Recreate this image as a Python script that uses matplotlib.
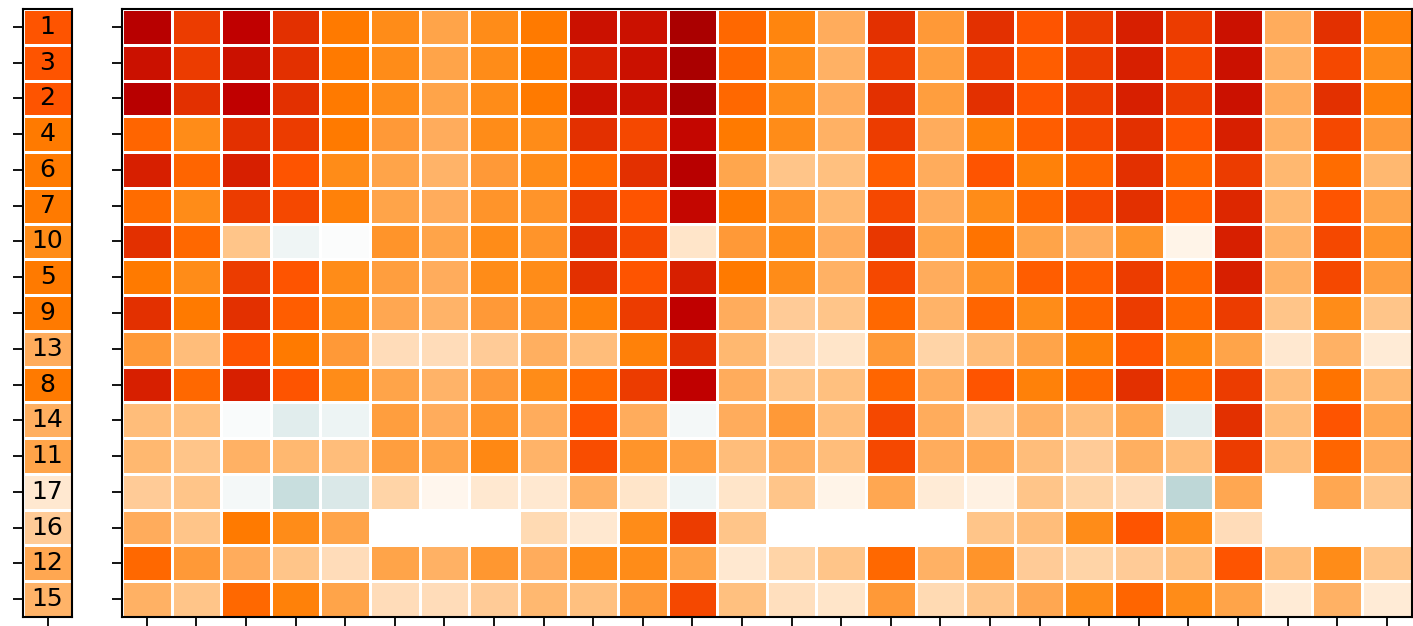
import numpy as np
import matplotlib
matplotlib.use("Agg")
import matplotlib.pyplot as plt
from matplotlib.colors import LinearSegmentedColormap, Normalize

# Row order (labels shown in the left strip)
row_labels = ["1", "3", "2", "4", "6", "7", "10", "5", "9", "13", "8", "14", "11", "17", "16", "12", "15"]
# Strip (row summary) values
row_summary = [6, 6, 6, 5, 5, 5, 4.5, 5, 5, 3, 5, 2.9, 3.5, 0.9, 1.8, 3.3, 2.7]

nan = np.nan
row_1  = [9.5, 7, 9, 7.5, 5, 4.5, 3.5, 4.5, 5, 8.5, 8.5, 10, 5.5, 4.7, 3, 7.5, 4, 7.5, 6, 7, 8, 7, 8.5, 3, 7.5, 4.8]
row_3  = [8.5, 7, 8.5, 7.5, 5, 4.5, 3.5, 4.5, 5, 8, 8.5, 10, 5.5, 4.5, 2.8, 7, 3.8, 7, 5.8, 7, 8, 6.5, 8.5, 2.8, 6.5, 4.5]
row_2  = [9.5, 7.5, 9, 7.5, 5, 4.5, 3.5, 4.5, 5, 8.5, 8.5, 10, 5.5, 4.5, 3, 7.5, 3.8, 7.5, 6, 7, 8, 7, 8.5, 3, 7.5, 4.8]
row_4  = [5.6, 4.5, 7.5, 7, 5, 4, 3, 4.5, 4.5, 7.5, 6.5, 8.8, 5, 4.5, 2.8, 7, 3, 4.8, 5.8, 6.5, 7.5, 6, 8, 2.8, 6.5, 4]
row_6  = [8, 5.6, 8, 6, 4.5, 3.5, 2.7, 4, 4.5, 5.5, 7.5, 9.5, 3.4, 2, 2.2, 5.8, 3, 6, 4.8, 5.6, 7.5, 5.6, 7, 2.5, 5.4, 2.5]
row_7  = [5.4, 4.5, 7, 6.5, 4.8, 3.5, 3, 4.2, 4.2, 7, 6, 8.8, 5, 4.2, 2.5, 6.5, 3, 4.5, 5.6, 6.5, 7.5, 5.8, 7.8, 2.5, 6, 3.5]
row_10 = [7.5, 5.5, 2, -0.5, -0.15, 4.2, 3.5, 4.5, 4.2, 7.5, 6.5, 1, 4, 4.5, 3, 7.2, 3.5, 5.2, 3.5, 3, 4.2, 0.5, 8, 2.7, 6.5, 4.2]
row_5  = [5, 4.5, 7, 6, 4.5, 3.8, 3, 4.5, 4.5, 7.5, 6, 8, 5, 4.5, 2.8, 6.5, 3, 4.2, 5.8, 5.8, 7, 5.6, 8, 2.8, 6.5, 3.8]
row_9  = [7.5, 5, 7.5, 5.8, 4.5, 3.3, 2.7, 4, 4.2, 4.8, 7, 9, 3, 1.8, 2, 5.5, 2.7, 5.6, 4.5, 5.6, 7, 5.5, 7, 2, 4.5, 2]
row_13 = [4, 2.3, 6, 5, 4, 1.3, 1.3, 1.8, 2.9, 2.3, 4.8, 7.5, 2.5, 1.3, 1, 4, 1.6, 2.3, 3.5, 4.8, 6, 4.6, 3.5, 0.9, 2.8, 0.8]
row_8  = [8, 5.5, 8, 6, 4.5, 3.5, 2.7, 4, 4.5, 5.5, 7, 9, 3, 2, 2.2, 5.6, 3, 6, 4.8, 5.5, 7.5, 5.5, 7, 2.3, 5.2, 2.5]
row_14 = [2.3, 2.2, -0.2, -1, -0.6, 3.8, 3, 4.2, 3, 6, 3, -0.4, 3, 4, 2.3, 6.5, 3, 1.9, 2.8, 2.3, 3.3, -0.9, 7.5, 2.3, 6, 3.3]
row_11 = [2.5, 2, 2.8, 2.5, 2.3, 3.8, 3.5, 4.6, 2.7, 6.3, 4.2, 3.8, 2.3, 2.8, 2.3, 6.5, 3, 3.3, 2.3, 1.8, 2.9, 2.3, 7, 2.3, 5.6, 3]
row_17 = [1.8, 2, -0.4, -2, -1.3, 1.6, 0.4, 0.9, 0.9, 2.8, 1, -0.5, 1, 2, 0.5, 3.3, 0.8, 0.6, 2, 1.6, 1.3, -2.3, 3.3, nan, 3.3, 2]
row_16 = [3, 2, 5, 4.5, 3.5, nan, nan, nan, 1.4, 0.9, 4.5, 7, 2, nan, nan, nan, nan, 2, 2.3, 4.5, 6, 4.5, 1.3, nan, nan, nan]
row_12 = [5.5, 4, 3, 2, 1.3, 3.5, 2.8, 4.1, 3, 4.5, 4.5, 3.5, 0.9, 1.6, 2, 5.5, 2.8, 4.2, 1.8, 1.6, 1.8, 2.2, 6, 2.3, 4.5, 2]
row_15 = [2.8, 2, 5.5, 4.8, 3.5, 1.3, 1.3, 1.8, 2.5, 2.2, 4, 6.5, 2.2, 1.2, 1, 4, 1.4, 2, 3.3, 4.5, 5.6, 4.5, 3.5, 0.8, 2.8, 0.8]

cell_rows = [row_1, row_3, row_2, row_4, row_6, row_7, row_10, row_5, row_9,
             row_13, row_8, row_14, row_11, row_17, row_16, row_12, row_15]

# Colour scale anchors (value -> colour)
anchor_vals = [-2.5, -2, -1, 0, 0.5, 1, 1.5, 2, 2.5, 3, 3.5, 4, 4.5, 5, 5.5, 6, 6.5, 7, 7.5, 8, 8.5, 9, 9.5, 10]
anchor_cols = ["#b8d2d2", "#c8dede", "#e2eded", "#ffffff", "#fff4e8", "#ffe4c8", "#ffd6ac",
               "#ffc58a", "#ffb870", "#ffac5c", "#ffa448", "#ff9a38", "#ff8c18", "#ff7a00",
               "#ff6800", "#ff5500", "#f54800", "#ec3c00", "#e33000", "#d82000", "#cc1200",
               "#c00000", "#b80000", "#aa0000"]
vmin, vmax = anchor_vals[0], anchor_vals[-1]
cmap = LinearSegmentedColormap.from_list(
    "custom", [((v - vmin) / (vmax - vmin), c) for v, c in zip(anchor_vals, anchor_cols)])
norm = Normalize(vmin=vmin, vmax=vmax)

data = np.ma.masked_invalid(np.array(cell_rows, dtype=float))
strip = np.array(row_summary, dtype=float).reshape(-1, 1)

W, H = 1413, 626
fig = plt.figure(figsize=(W / 100, H / 100), dpi=100)

ax_s = fig.add_axes([23 / W, (H - 617) / H, 49 / W, 608 / H])
ax_m = fig.add_axes([122 / W, (H - 617) / H, 1289.5 / W, 608 / H])

ax_s.pcolormesh(strip, cmap=cmap, norm=norm, edgecolors="white", linewidth=2)
ax_m.pcolormesh(data, cmap=cmap, norm=norm, edgecolors="white", linewidth=2)

nr, nc = data.shape
for i, lab in enumerate(row_labels):
    ax_s.text(0.5, i + 0.5, lab, ha="center", va="center", fontsize=18, color="black")

for ax, ncols in ((ax_s, 1), (ax_m, nc)):
    ax.set_xlim(0, ncols)
    ax.set_ylim(nr, 0)
    ax.set_xticks(np.arange(ncols) + 0.5)
    ax.set_yticks(np.arange(nr) + 0.5)
    ax.set_xticklabels([])
    ax.set_yticklabels([])
    ax.tick_params(length=7, width=1.3, color="black")
    for sp in ax.spines.values():
        sp.set_linewidth(1.5)
        sp.set_color("black")

fig.savefig("out.png", dpi=100)
